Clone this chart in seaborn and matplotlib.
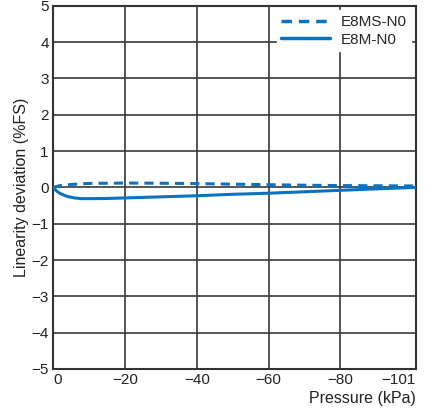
import numpy as np
import pandas as pd
import matplotlib
matplotlib.use("Agg")
import matplotlib.pyplot as plt
import seaborn as sns

series_names = ["E8MS-N0", "E8M-N0"]
pressure_ms = [0, -2, -5, -10, -20, -30, -40, -50, -60, -70, -80, -90, -101]
dev_ms = [0.0, 0.05, 0.08, 0.11, 0.12, 0.115, 0.105, 0.09, 0.075, 0.06, 0.05, 0.045, 0.04]
pressure_m = [0, -1, -2, -4, -6, -8, -10, -15, -20, -30, -40, -50, -60, -70, -80, -90, -101]
dev_m = [0.0, -0.1, -0.17, -0.25, -0.29, -0.31, -0.31, -0.305, -0.29, -0.26, -0.23, -0.19, -0.16, -0.12, -0.08, -0.04, 0.0]
xticks = [0, -20, -40, -60, -80, -101]
yticks = [-5, -4, -3, -2, -1, 0, 1, 2, 3, 4, 5]

df = pd.concat([
    pd.DataFrame({"p": pressure_ms, "d": dev_ms, "s": series_names[0]}),
    pd.DataFrame({"p": pressure_m, "d": dev_m, "s": series_names[1]}),
])

sns.set_style("white")
plt.rcParams["font.family"] = ["Liberation Sans", "DejaVu Sans"]

fig = plt.figure(figsize=(4.31, 4.16), dpi=100)
ax = fig.add_axes([0.123, 0.113, 0.842, 0.873])
color = "#0a72c0"
sns.lineplot(data=df, x="p", y="d", hue="s", style="s",
             palette={series_names[0]: color, series_names[1]: color},
             dashes={series_names[0]: (3, 2), series_names[1]: ""},
             linewidth=2.2, ax=ax, sort=False, estimator=None, zorder=3)

ax.set_xlim(0, -101)
ax.set_ylim(-5, 5)
ax.set_xticks(xticks)
ax.set_yticks(yticks)
ax.set_xticklabels([str(t).replace("-", "\u2212") for t in xticks])
ax.set_yticklabels([str(t).replace("-", "\u2212") for t in yticks])
ax.grid(True, color="#3a3a3a", linewidth=1.2)
ax.tick_params(length=0, labelsize=11, colors="#222222", pad=3)
ax.get_xticklabels()[0].set_horizontalalignment("left")
ax.get_xticklabels()[-1].set_horizontalalignment("right")
for sp in ax.spines.values():
    sp.set_color("#333333")
    sp.set_linewidth(1.5)
ax.set_xlabel("Pressure (kPa)", fontsize=11.5, loc="right", color="#222222", labelpad=3)
ax.set_ylabel("Linearity deviation (%FS)", fontsize=11.5, color="#222222", labelpad=2)

handles, labels = ax.get_legend_handles_labels()
leg = ax.legend(handles, labels, loc="upper right", frameon=True, fontsize=11,
                handlelength=3.2, borderaxespad=0.3, labelspacing=0.25,
                handletextpad=0.7, fancybox=False, borderpad=0.3)
leg.get_frame().set_facecolor("white")
leg.get_frame().set_edgecolor("white")
leg.get_frame().set_alpha(1)
for h in leg.get_lines():
    h.set_linewidth(2.5)

fig.savefig("out.png", dpi=100)
